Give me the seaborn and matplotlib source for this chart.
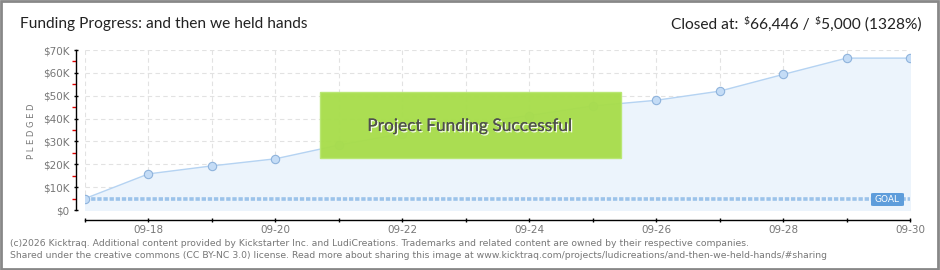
import matplotlib
matplotlib.use("Agg")
import matplotlib.pyplot as plt
import matplotlib.patches as mpatches
import matplotlib.patheffects as pe
from matplotlib.text import Annotation
import seaborn as sns
import pandas as pd

days = [17, 18, 19, 20, 21, 22, 23, 24, 25, 26, 27, 28, 29, 30]
pledged = [5000, 15800, 19300, 22400, 28400, 33400, 37500, 41300, 45500, 48000, 52000, 59300, 66446, 66446]
goal = 5000
ytick_vals = [0, 10000, 20000, 30000, 40000, 50000, 60000, 70000]
ytick_labels = ["$0", "$10K", "$20K", "$30K", "$40K", "$50K", "$60K", "$70K"]
xtick_days = [18, 20, 22, 24, 26, 28, 30]
xtick_labels = ["09-18", "09-20", "09-22", "09-24", "09-26", "09-28", "09-30"]
title = "Funding Progress: and then we held hands"
closed_parts = ["Closed at:", "\\$", "66,446 /", "\\$", "5,000 (1328%)"]
footer1 = "(c)2026 Kicktraq. Additional content provided by Kickstarter Inc. and LudiCreations. Trademarks and related content are owned by their respective companies."
footer2 = "Shared under the creative commons (CC BY-NC 3.0) license. Read more about sharing this image at www.kicktraq.com/projects/ludicreations/and-then-we-held-hands/#sharing"

sns.set_theme(style="white")
plt.rcParams['font.family'] = ['DejaVu Sans']
narrow = ['Lato', 'DejaVu Sans']

df = pd.DataFrame({"day": days, "pledged": pledged})

W, H = 940, 270
PX = 72 / 100  # points per pixel
fig = plt.figure(figsize=(9.4, 2.7), dpi=100)
fig.patch.set_facecolor("white")
ax = fig.add_axes([85 / W, 1 - 210 / H, (910 - 85) / W, 160 / H])
ax.set_facecolor("white")

# fill under curve
ax.fill_between(df["day"], df["pledged"], 0, color="#ecf4fc", zorder=1)
sns.lineplot(data=df, x="day", y="pledged", ax=ax, color="#b5d3f2", linewidth=1,
             marker="o", markersize=6, markerfacecolor="#c4dcf6", markeredgecolor="#8fb3dc",
             markeredgewidth=0.8, zorder=3)
# goal line
ax.axhline(goal, color="#9cc3ea", linewidth=2.6, linestyle=(0, (1.2, 0.5)), zorder=2)

ax.set_xlim(17, 30)
ax.set_ylim(0, 70000)
ax.set_xlabel("")
ax.set_ylabel("")

# grid
for d in days:
    ax.axvline(d, color="#e2e2e2", linewidth=0.8, linestyle=(0, (4, 3)), zorder=0.5)
for v in ytick_vals:
    ax.axhline(v, color="#e2e2e2", linewidth=0.8, linestyle=(0, (4, 3)), zorder=0.5)

for s in ["top", "right"]:
    ax.spines[s].set_visible(False)
ax.spines["left"].set_position(("outward", 9 * PX))
ax.spines["bottom"].set_position(("outward", 10 * PX))
for s in ["left", "bottom"]:
    ax.spines[s].set_color("black")
    ax.spines[s].set_linewidth(1.0)

ax.set_yticks(ytick_vals)
ax.set_yticklabels(ytick_labels)
ax.set_yticks([5000, 15000, 25000, 35000, 45000, 55000, 65000], minor=True)
ax.set_xticks(days)
ax.set_xticklabels([xtick_labels[xtick_days.index(d)] if d in xtick_days else "" for d in days])
ax.tick_params(axis="y", which="major", direction="inout", length=5 * PX, width=1.0, color="black",
               labelsize=7.5, labelcolor="#777777", pad=3, left=True)
ax.tick_params(axis="y", which="minor", direction="out", length=4 * PX, width=1.0, color="#e00000", left=True)
ax.tick_params(axis="x", which="major", direction="inout", length=5 * PX, width=1.0, color="black",
               labelsize=7.5, labelcolor="#777777", pad=2, bottom=True)

# y label
fig.text(31 / W, 1 - 131 / H, "P L E D G E D", rotation=90, ha="center", va="center",
         fontsize=6, color="#777777")

# goal label
fig.patches.append(mpatches.FancyBboxPatch((871 / W, 1 - 206 / H), 33 / W, 13 / H,
                   boxstyle="round,pad=0,rounding_size=0.003", transform=fig.transFigure,
                   facecolor="#5e9ddb", edgecolor="none", zorder=5))
fig.text(887 / W, 1 - 199.5 / H, "GOAL", ha="center", va="center", fontsize=6.5,
         color="white", zorder=6)

# success box
fig.patches.append(mpatches.Rectangle((320 / W, 1 - 158 / H), 301 / W, 66 / H,
                   transform=fig.transFigure, facecolor="#a8dd4c", edgecolor="#b9e773",
                   linewidth=1, alpha=0.97, zorder=5))
fig.text(470 / W, 1 - 126 / H, "Project Funding Successful", ha="center", va="center",
         fontsize=12.5, color="#4f4f4f", zorder=6, family=narrow,
         path_effects=[pe.withSimplePatchShadow(offset=(1, -1), shadow_rgbFace="white", alpha=0.9), pe.Normal()])

# header
fig.text(20 / W, 1 - 24 / H, title, ha="left", va="center", fontsize=11.2, color="#222222",
         family=narrow)

t0 = fig.text(671 / W, 1 - 32 / H, closed_parts[0], ha="left", va="bottom", fontsize=11.2,
              color="#222222", family=narrow)
prev = t0
last_big = t0
for part in closed_parts[1:]:
    small = part == "\\$"
    a = Annotation(part, xy=(1, 0), xycoords=(prev, last_big),
                   xytext=(5 * PX if small else 0.5 * PX, 6 * PX if small else 0),
                   textcoords="offset points", ha="left", va="bottom",
                   fontsize=7.5 if small else 11.2, color="#222222", family=narrow,
                   annotation_clip=False)
    fig.add_artist(a)
    prev = a
    if not small:
        last_big = a

# footer
fig.text(10 / W, 1 - 243.5 / H, footer1, ha="left", va="center", fontsize=6.65, color="#777777")
fig.text(10 / W, 1 - 256 / H, footer2, ha="left", va="center", fontsize=6.65, color="#777777")

# border
fig.patches.append(mpatches.Rectangle((0.001, 0.002), 0.997, 0.995, transform=fig.transFigure,
                   fill=False, edgecolor="#888888", linewidth=2))

fig.savefig("out.png", dpi=100)
